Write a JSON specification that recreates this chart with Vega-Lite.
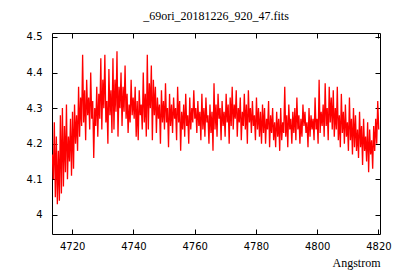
{
  "$schema": "https://vega.github.io/schema/vega-lite/v6.json",
  "width": 328,
  "height": 201,
  "autosize": {"type": "none"},
  "padding": {"left": 52, "top": 33, "right": 20, "bottom": 46},
  "background": "white",
  "title": {"text": "_69ori_20181226_920_47.fits", "font": "Liberation Serif", "fontSize": 12, "fontWeight": "normal", "color": "black", "offset": 9, "anchor": "middle"},
  "config": {
    "view": {"stroke": "black", "strokeWidth": 1},
    "axis": {"grid": false, "domain": false, "tickColor": "black", "labelColor": "black", "labelFont": "DejaVu Sans", "labelFontSize": 10, "titleFont": "Liberation Serif", "titleFontSize": 12, "titleFontWeight": "normal", "titleColor": "black"}
  },
  "datasets": {
    "spec": [
      {"w":4713.50,"f":4.17},{"w":4713.83,"f":4.10},{"w":4714.16,"f":4.26},{"w":4714.49,"f":4.05},{"w":4714.82,"f":4.22},{"w":4715.15,"f":4.03},{"w":4715.48,"f":4.18},{"w":4715.81,"f":4.04},{"w":4716.14,"f":4.28},{"w":4716.47,"f":4.06},
      {"w":4716.80,"f":4.30},{"w":4717.13,"f":4.08},{"w":4717.46,"f":4.25},{"w":4717.79,"f":4.12},{"w":4718.12,"f":4.31},{"w":4718.45,"f":4.10},{"w":4718.78,"f":4.22},{"w":4719.11,"f":4.15},{"w":4719.44,"f":4.27},{"w":4719.77,"f":4.11},
      {"w":4720.10,"f":4.29},{"w":4720.43,"f":4.13},{"w":4720.76,"f":4.31},{"w":4721.09,"f":4.20},{"w":4721.42,"f":4.28},{"w":4721.75,"f":4.18},{"w":4722.08,"f":4.36},{"w":4722.41,"f":4.22},{"w":4722.74,"f":4.33},{"w":4723.07,"f":4.25},
      {"w":4723.40,"f":4.45},{"w":4723.73,"f":4.26},{"w":4724.06,"f":4.35},{"w":4724.39,"f":4.21},{"w":4724.72,"f":4.38},{"w":4725.05,"f":4.28},{"w":4725.38,"f":4.33},{"w":4725.71,"f":4.24},{"w":4726.04,"f":4.40},{"w":4726.37,"f":4.27},
      {"w":4726.70,"f":4.32},{"w":4727.03,"f":4.16},{"w":4727.36,"f":4.30},{"w":4727.69,"f":4.25},{"w":4728.02,"f":4.36},{"w":4728.35,"f":4.22},{"w":4728.68,"f":4.34},{"w":4729.01,"f":4.27},{"w":4729.34,"f":4.44},{"w":4729.67,"f":4.24},
      {"w":4730.00,"f":4.38},{"w":4730.33,"f":4.30},{"w":4730.66,"f":4.45},{"w":4730.99,"f":4.26},{"w":4731.32,"f":4.32},{"w":4731.65,"f":4.20},{"w":4731.98,"f":4.41},{"w":4732.31,"f":4.28},{"w":4732.64,"f":4.35},{"w":4732.97,"f":4.23},
      {"w":4733.30,"f":4.44},{"w":4733.63,"f":4.24},{"w":4733.96,"f":4.38},{"w":4734.29,"f":4.29},{"w":4734.62,"f":4.46},{"w":4734.95,"f":4.22},{"w":4735.28,"f":4.36},{"w":4735.61,"f":4.30},{"w":4735.94,"f":4.40},{"w":4736.27,"f":4.25},
      {"w":4736.60,"f":4.36},{"w":4736.93,"f":4.29},{"w":4737.26,"f":4.42},{"w":4737.59,"f":4.27},{"w":4737.92,"f":4.34},{"w":4738.25,"f":4.23},{"w":4738.58,"f":4.31},{"w":4738.91,"f":4.26},{"w":4739.24,"f":4.38},{"w":4739.57,"f":4.28},
      {"w":4739.90,"f":4.33},{"w":4740.23,"f":4.27},{"w":4740.56,"f":4.36},{"w":4740.89,"f":4.22},{"w":4741.22,"f":4.32},{"w":4741.55,"f":4.21},{"w":4741.88,"f":4.35},{"w":4742.21,"f":4.28},{"w":4742.54,"f":4.31},{"w":4742.87,"f":4.24},
      {"w":4743.20,"f":4.40},{"w":4743.53,"f":4.26},{"w":4743.86,"f":4.34},{"w":4744.19,"f":4.22},{"w":4744.52,"f":4.45},{"w":4744.85,"f":4.24},{"w":4745.18,"f":4.37},{"w":4745.51,"f":4.30},{"w":4745.84,"f":4.42},{"w":4746.17,"f":4.21},
      {"w":4746.50,"f":4.38},{"w":4746.83,"f":4.28},{"w":4747.16,"f":4.36},{"w":4747.49,"f":4.23},{"w":4747.82,"f":4.33},{"w":4748.15,"f":4.27},{"w":4748.48,"f":4.31},{"w":4748.81,"f":4.20},{"w":4749.14,"f":4.35},{"w":4749.47,"f":4.26},
      {"w":4749.80,"f":4.32},{"w":4750.13,"f":4.24},{"w":4750.46,"f":4.37},{"w":4750.79,"f":4.26},{"w":4751.12,"f":4.30},{"w":4751.45,"f":4.19},{"w":4751.78,"f":4.34},{"w":4752.11,"f":4.25},{"w":4752.44,"f":4.31},{"w":4752.77,"f":4.23},
      {"w":4753.10,"f":4.33},{"w":4753.43,"f":4.27},{"w":4753.76,"f":4.30},{"w":4754.09,"f":4.21},{"w":4754.42,"f":4.36},{"w":4754.75,"f":4.26},{"w":4755.08,"f":4.32},{"w":4755.41,"f":4.18},{"w":4755.74,"f":4.29},{"w":4756.07,"f":4.24},
      {"w":4756.40,"f":4.31},{"w":4756.73,"f":4.22},{"w":4757.06,"f":4.34},{"w":4757.39,"f":4.25},{"w":4757.72,"f":4.28},{"w":4758.05,"f":4.20},{"w":4758.38,"f":4.33},{"w":4758.71,"f":4.24},{"w":4759.04,"f":4.30},{"w":4759.37,"f":4.26},
      {"w":4759.70,"f":4.35},{"w":4760.03,"f":4.27},{"w":4760.36,"f":4.30},{"w":4760.69,"f":4.23},{"w":4761.02,"f":4.32},{"w":4761.35,"f":4.25},{"w":4761.68,"f":4.29},{"w":4762.01,"f":4.21},{"w":4762.34,"f":4.34},{"w":4762.67,"f":4.24},
      {"w":4763.00,"f":4.30},{"w":4763.33,"f":4.22},{"w":4763.66,"f":4.33},{"w":4763.99,"f":4.26},{"w":4764.32,"f":4.28},{"w":4764.65,"f":4.20},{"w":4764.98,"f":4.31},{"w":4765.31,"f":4.23},{"w":4765.64,"f":4.29},{"w":4765.97,"f":4.18},
      {"w":4766.30,"f":4.37},{"w":4766.63,"f":4.24},{"w":4766.96,"f":4.31},{"w":4767.29,"f":4.22},{"w":4767.62,"f":4.34},{"w":4767.95,"f":4.27},{"w":4768.28,"f":4.30},{"w":4768.61,"f":4.21},{"w":4768.94,"f":4.32},{"w":4769.27,"f":4.25},
      {"w":4769.60,"f":4.29},{"w":4769.93,"f":4.22},{"w":4770.26,"f":4.34},{"w":4770.59,"f":4.26},{"w":4770.92,"f":4.31},{"w":4771.25,"f":4.20},{"w":4771.58,"f":4.33},{"w":4771.91,"f":4.25},{"w":4772.24,"f":4.36},{"w":4772.57,"f":4.24},
      {"w":4772.90,"f":4.31},{"w":4773.23,"f":4.27},{"w":4773.56,"f":4.35},{"w":4773.89,"f":4.22},{"w":4774.22,"f":4.30},{"w":4774.55,"f":4.26},{"w":4774.88,"f":4.33},{"w":4775.21,"f":4.21},{"w":4775.54,"f":4.29},{"w":4775.87,"f":4.25},
      {"w":4776.20,"f":4.34},{"w":4776.53,"f":4.24},{"w":4776.86,"f":4.31},{"w":4777.19,"f":4.20},{"w":4777.52,"f":4.35},{"w":4777.85,"f":4.26},{"w":4778.18,"f":4.30},{"w":4778.51,"f":4.23},{"w":4778.84,"f":4.32},{"w":4779.17,"f":4.25},
      {"w":4779.50,"f":4.28},{"w":4779.83,"f":4.21},{"w":4780.16,"f":4.33},{"w":4780.49,"f":4.24},{"w":4780.82,"f":4.30},{"w":4781.15,"f":4.22},{"w":4781.48,"f":4.29},{"w":4781.81,"f":4.20},{"w":4782.14,"f":4.31},{"w":4782.47,"f":4.23},
      {"w":4782.80,"f":4.30},{"w":4783.13,"f":4.20},{"w":4783.46,"f":4.27},{"w":4783.79,"f":4.24},{"w":4784.12,"f":4.32},{"w":4784.45,"f":4.19},{"w":4784.78,"f":4.28},{"w":4785.11,"f":4.23},{"w":4785.44,"f":4.30},{"w":4785.77,"f":4.21},
      {"w":4786.10,"f":4.26},{"w":4786.43,"f":4.19},{"w":4786.76,"f":4.29},{"w":4787.09,"f":4.22},{"w":4787.42,"f":4.27},{"w":4787.75,"f":4.18},{"w":4788.08,"f":4.30},{"w":4788.41,"f":4.21},{"w":4788.74,"f":4.26},{"w":4789.07,"f":4.23},
      {"w":4789.40,"f":4.36},{"w":4789.73,"f":4.22},{"w":4790.06,"f":4.28},{"w":4790.39,"f":4.19},{"w":4790.72,"f":4.31},{"w":4791.05,"f":4.24},{"w":4791.38,"f":4.27},{"w":4791.71,"f":4.20},{"w":4792.04,"f":4.29},{"w":4792.37,"f":4.23},
      {"w":4792.70,"f":4.30},{"w":4793.03,"f":4.21},{"w":4793.36,"f":4.33},{"w":4793.69,"f":4.24},{"w":4794.02,"f":4.28},{"w":4794.35,"f":4.20},{"w":4794.68,"f":4.27},{"w":4795.01,"f":4.22},{"w":4795.34,"f":4.31},{"w":4795.67,"f":4.25},
      {"w":4796.00,"f":4.29},{"w":4796.33,"f":4.23},{"w":4796.66,"f":4.26},{"w":4796.99,"f":4.19},{"w":4797.32,"f":4.30},{"w":4797.65,"f":4.22},{"w":4797.98,"f":4.28},{"w":4798.31,"f":4.24},{"w":4798.64,"f":4.27},{"w":4798.97,"f":4.21},
      {"w":4799.30,"f":4.33},{"w":4799.63,"f":4.24},{"w":4799.96,"f":4.27},{"w":4800.29,"f":4.20},{"w":4800.62,"f":4.38},{"w":4800.95,"f":4.23},{"w":4801.28,"f":4.29},{"w":4801.61,"f":4.25},{"w":4801.94,"f":4.31},{"w":4802.27,"f":4.22},
      {"w":4802.60,"f":4.37},{"w":4802.93,"f":4.25},{"w":4803.26,"f":4.30},{"w":4803.59,"f":4.21},{"w":4803.92,"f":4.36},{"w":4804.25,"f":4.26},{"w":4804.58,"f":4.33},{"w":4804.91,"f":4.24},{"w":4805.24,"f":4.35},{"w":4805.57,"f":4.22},
      {"w":4805.90,"f":4.30},{"w":4806.23,"f":4.24},{"w":4806.56,"f":4.36},{"w":4806.89,"f":4.21},{"w":4807.22,"f":4.28},{"w":4807.55,"f":4.19},{"w":4807.88,"f":4.34},{"w":4808.21,"f":4.23},{"w":4808.54,"f":4.29},{"w":4808.87,"f":4.20},
      {"w":4809.20,"f":4.31},{"w":4809.53,"f":4.22},{"w":4809.86,"f":4.26},{"w":4810.19,"f":4.18},{"w":4810.52,"f":4.33},{"w":4810.85,"f":4.21},{"w":4811.18,"f":4.27},{"w":4811.51,"f":4.17},{"w":4811.84,"f":4.30},{"w":4812.17,"f":4.19},
      {"w":4812.50,"f":4.28},{"w":4812.83,"f":4.18},{"w":4813.16,"f":4.24},{"w":4813.49,"f":4.16},{"w":4813.82,"f":4.29},{"w":4814.15,"f":4.19},{"w":4814.48,"f":4.25},{"w":4814.81,"f":4.14},{"w":4815.14,"f":4.27},{"w":4815.47,"f":4.18},
      {"w":4815.80,"f":4.22},{"w":4816.13,"f":4.15},{"w":4816.46,"f":4.26},{"w":4816.79,"f":4.12},{"w":4817.12,"f":4.24},{"w":4817.45,"f":4.17},{"w":4817.78,"f":4.21},{"w":4818.11,"f":4.13},{"w":4818.44,"f":4.25},{"w":4818.77,"f":4.18},
      {"w":4819.10,"f":4.27},{"w":4819.43,"f":4.20},{"w":4819.76,"f":4.32},{"w":4820.09,"f":4.24}
    ]
  },
  "data": {"name": "spec"},
  "layer": [
    {
      "mark": {"type": "line", "color": "#ff0000", "strokeWidth": 1.3, "clip": true},
      "encoding": {
        "x": {"field": "w", "type": "quantitative", "scale": {"domain": [4713.4, 4820.5], "nice": false, "zero": false},
              "axis": {"orient": "bottom", "values": [4720, 4740, 4760, 4780, 4800, 4820], "format": "d", "tickSize": -5, "labelPadding": 12, "title": "Angstrom", "titleX": 328, "titleY": 32, "titleAlign": "right", "titleBaseline": "alphabetic", "labelFlush": false}},
        "y": {"field": "f", "type": "quantitative", "scale": {"domain": [3.9465, 4.511], "nice": false, "zero": false},
              "axis": {"orient": "left", "values": [4.0, 4.1, 4.2, 4.3, 4.4, 4.5], "tickSize": -5, "labelPadding": 15, "title": null, "labelExpr": "'' + datum.value", "labelFlush": false}}
      }
    },
    {
      "mark": {"type": "line", "strokeOpacity": 0},
      "encoding": {
        "x": {"field": "w", "type": "quantitative", "axis": {"orient": "top", "values": [4720, 4740, 4760, 4780, 4800, 4820], "tickSize": -5, "labels": false, "title": null}},
        "y": {"field": "f", "type": "quantitative", "axis": {"orient": "right", "values": [4.0, 4.1, 4.2, 4.3, 4.4, 4.5], "tickSize": -5, "labels": false, "title": null}}
      }
    }
  ],
  "resolve": {"axis": {"x": "independent", "y": "independent"}}
}
